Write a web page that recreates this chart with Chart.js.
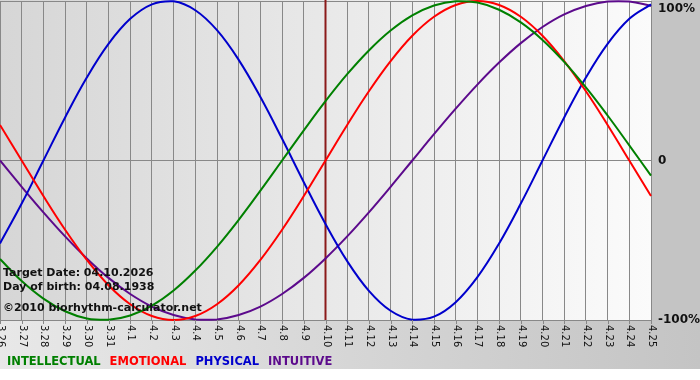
<!DOCTYPE html>
<html>
<head>
<meta charset="utf-8">
<script src="https://cdn.jsdelivr.net/npm/chart.js@4.4.0/dist/chart.umd.min.js"></script>
<style>
  html, body { margin: 0; padding: 0; background: #fff; }
  #wrap { width: 700px; height: 380px; }
</style>
</head>
<body>
<div id="wrap"><canvas id="bio" width="700" height="380"></canvas></div>
<script>
// day labels 26 March - 25 April
const days = ['3.26', '3.27', '3.28', '3.29', '3.30', '3.31', '4.1', '4.2', '4.3', '4.4',
  '4.5', '4.6', '4.7', '4.8', '4.9', '4.10', '4.11', '4.12', '4.13', '4.14', '4.15',
  '4.16', '4.17', '4.18', '4.19', '4.20', '4.21', '4.22', '4.23', '4.24', '4.25'];

const intellectual = [-0.618, -0.756, -0.866, -0.945, -0.990, -0.999, -0.972, -0.910, -0.815, -0.690,
  -0.541, -0.372, -0.189, 0.000, 0.189, 0.372, 0.541, 0.690, 0.815, 0.910, 0.972,
  0.999, 0.990, 0.945, 0.866, 0.756, 0.618, 0.458, 0.282, 0.095, -0.095];

const emotional = [0.223, 0.000, -0.223, -0.434, -0.623, -0.782, -0.901, -0.975, -1.000, -0.975,
  -0.901, -0.782, -0.623, -0.434, -0.223, 0.000, 0.223, 0.434, 0.623, 0.782, 0.901,
  0.975, 1.000, 0.975, 0.901, 0.782, 0.623, 0.434, 0.223, 0.000, -0.223];

const physical = [-0.520, -0.270, 0.000, 0.270, 0.520, 0.731, 0.888, 0.979, 0.998, 0.942,
  0.817, 0.631, 0.398, 0.136, -0.136, -0.398, -0.631, -0.817, -0.942, -0.998, -0.979,
  -0.888, -0.731, -0.520, -0.270, 0.000, 0.270, 0.520, 0.731, 0.888, 0.979];

const intuitive = [0.000, -0.165, -0.325, -0.476, -0.614, -0.736, -0.837, -0.916, -0.969, -0.997,
  -0.997, -0.969, -0.916, -0.837, -0.736, -0.614, -0.476, -0.325, -0.165, 0.000, 0.165,
  0.325, 0.476, 0.614, 0.736, 0.837, 0.916, 0.969, 0.997, 0.997, 0.969];

const yLabels = ['100%', '0', '-100%'];
const targetDay = '4.10';
const infoLines = ['Target Date: 04.10.2026', 'Day of birth: 04.08.1938'];
const copyright = '\u00a92010 biorhythm-calculator.net';

const FONT = "Verdana, 'DejaVu Sans', sans-serif";

const bioPlugin = {
  id: 'bio',
  beforeDraw(chart) {
    const { ctx, chartArea: a, width } = chart;
    ctx.save();
    // outer frame
    let g = ctx.createLinearGradient(0, 0, width, 0);
    g.addColorStop(0, '#e8e8e8');
    g.addColorStop(1, '#c4c4c4');
    ctx.fillStyle = g;
    ctx.fillRect(0, 0, width, 369);
    ctx.fillStyle = '#c4c4c4';
    ctx.fillRect(a.right, 0, width - a.right, a.bottom + 1);
    // plot area
    g = ctx.createLinearGradient(a.left, 0, a.right, 0);
    g.addColorStop(0, '#d6d6d6');
    g.addColorStop(1, '#fbfbfb');
    ctx.fillStyle = g;
    ctx.fillRect(a.left, 0, a.right - a.left, a.bottom);
    ctx.restore();
  },
  beforeDatasetsDraw(chart) {
    const { ctx, chartArea: a } = chart;
    const x = chart.scales.x.getPixelForValue(days.indexOf(targetDay));
    ctx.save();
    ctx.strokeStyle = '#8b1a1a';
    ctx.lineWidth = 2;
    ctx.beginPath();
    ctx.moveTo(x, 0);
    ctx.lineTo(x, a.bottom);
    ctx.stroke();
    ctx.restore();
  },
  afterDraw(chart) {
    const { ctx, chartArea: a } = chart;
    const xs = chart.scales.x, ys = chart.scales.y;
    ctx.save();
    // tick marks and rotated day labels
    ctx.strokeStyle = '#888';
    ctx.lineWidth = 1;
    ctx.fillStyle = '#111';
    ctx.font = '10px ' + FONT;
    ctx.textAlign = 'left';
    ctx.textBaseline = 'middle';
    days.forEach((d, i) => {
      const x = Math.round(xs.getPixelForValue(i)) + 0.5;
      ctx.beginPath();
      ctx.moveTo(x, a.bottom);
      ctx.lineTo(x, a.bottom + 4);
      ctx.stroke();
      ctx.save();
      ctx.translate(x, a.bottom + 5);
      ctx.rotate(Math.PI / 2);
      ctx.fillText(d, 0, 0);
      ctx.restore();
    });
    // percent labels
    ctx.font = 'bold 12px ' + FONT;
    ctx.fillStyle = '#111';
    [1, 0, -1].forEach((v, i) => {
      const y = Math.min(Math.max(ys.getPixelForValue(v), 9), 372);
      ctx.fillText(yLabels[i], a.right + 7, y);
    });
    // info text
    ctx.font = 'bold 11px ' + FONT;
    ctx.textBaseline = 'alphabetic';
    ctx.fillText(infoLines[0], 3, 276);
    ctx.fillText(infoLines[1], 3, 290);
    ctx.font = 'bold 11px ' + FONT;
    ctx.fillText(copyright, 3, 311);
    // legend
    ctx.font = 'bold 11.5px ' + FONT;
    ctx.textBaseline = 'middle';
    let lx = 7;
    chart.data.datasets.forEach(ds => {
      ctx.fillStyle = ds.borderColor;
      ctx.fillText(ds.label, lx, 362);
      lx += ctx.measureText(ds.label).width + 9;
    });
    ctx.restore();
  }
};

const line = (label, data, color) => ({
  label, data,
  borderColor: color,
  borderWidth: 2,
  pointRadius: 0,
  tension: 0.4,
  fill: false,
  clip: 4
});

const config = {
  type: 'line',
  data: {
    labels: days,
    datasets: [
      line('INTELLECTUAL', intellectual, '#008000'),
      line('EMOTIONAL', emotional, '#ff0000'),
      line('PHYSICAL', physical, '#0000cc'),
      line('INTUITIVE', intuitive, '#5c0a8c')
    ]
  },
  plugins: [bioPlugin],
  options: {
    responsive: false,
    animation: false,
    events: [],
    layout: { padding: { top: 1, right: 49, bottom: 60, left: 0 } },
    plugins: {
      legend: { display: false },
      tooltip: { enabled: false }
    },
    scales: {
      x: {
        offset: false,
        ticks: { display: false },
        grid: { color: '#888', lineWidth: 1, drawTicks: false },
        border: { display: false },
        afterFit(s) { s.height = 0; }
      },
      y: {
        position: 'right',
        min: -1,
        max: 1,
        ticks: { display: false, stepSize: 1 },
        grid: { color: '#888', lineWidth: 1, drawTicks: false },
        border: { display: false },
        afterFit(s) { s.width = 0; }
      }
    }
  }
};

const bioChart = new Chart(document.getElementById('bio'), config);
</script>
</body>
</html>
